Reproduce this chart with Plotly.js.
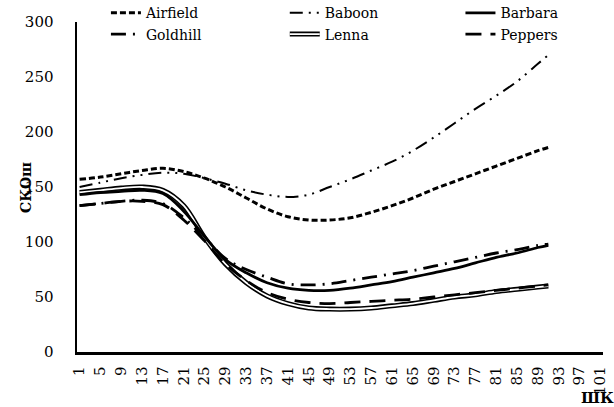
<!DOCTYPE html>
<html>
<head>
<meta charset="utf-8">
<script src="https://cdn.plot.ly/plotly-3.0.1.min.js"></script>
<style>
  html, body { margin: 0; padding: 0; background: #fff; }
  #chart { width: 614px; height: 407px; }
</style>
</head>
<body>
<div id="chart"></div>
<script>
// Sample positions (ШК)
const shk = [1, 5, 9, 13, 17, 21, 25, 29, 33, 37, 41, 45, 49, 53, 57, 61, 65, 69, 73, 77, 81, 85, 89, 91];

// СКОш values per image
const airfield = [157, 159, 162, 165, 167, 164, 158, 150, 140, 130, 123, 120, 120, 122, 127, 133, 140, 148, 155, 162, 169, 176, 183, 186];
const baboon   = [150, 154, 158, 161, 163, 162, 158, 153, 147, 143, 141, 143, 150, 157, 165, 173, 183, 195, 208, 221, 233, 246, 262, 270];
const barbara  = [143, 145, 146, 147, 144, 128, 105, 84, 72, 63, 58, 56, 56, 58, 61, 64, 68, 72, 76, 81, 86, 90, 95, 97];
const goldhill = [133, 135, 137, 138, 135, 122, 104, 85, 75, 68, 62, 61, 62, 65, 68, 71, 74, 78, 82, 86, 90, 93, 97, 98];
const lenna    = [145, 147, 149, 150, 147, 133, 104, 80, 63, 51, 44, 40, 39, 39, 40, 42, 44, 47, 50, 52, 55, 57, 59, 60];
const peppers  = [133, 135, 137, 137, 134, 120, 101, 80, 65, 54, 48, 45, 44, 45, 46, 47, 48, 50, 52, 54, 56, 58, 60, 61];

// Axis ticks
const xTicks = [1, 5, 9, 13, 17, 21, 25, 29, 33, 37, 41, 45, 49, 53, 57, 61, 65, 69, 73, 77, 81, 85, 89, 93, 97, 101];
const yTicks = [0, 50, 100, 150, 200, 250, 300];

const FONT = 'DejaVu Serif';

function tr(name, y, line, legend, show) {
  return {
    type: 'scatter', mode: 'lines', name: name, x: shk, y: y,
    line: Object.assign({ shape: 'spline', smoothing: 1, color: '#000' }, line),
    legend: legend, showlegend: show !== false, hoverinfo: 'skip'
  };
}

const data = [
  tr('Airfield', airfield, { width: 3, dash: '6px,3px' }, 'legend'),
  tr('Goldhill', goldhill, { width: 2.8, dash: '15px,7px,2px,7px' }, 'legend'),
  tr('Baboon', baboon, { width: 2, dash: '13px,6px,2px,6px,2px,6px' }, 'legend2'),
  tr('Lenna', lenna, { width: 5 }, 'legend2'),
  tr('Lenna', lenna, { width: 1.8, color: '#fff' }, 'legend2', false),
  tr('Barbara', barbara, { width: 2.8 }, 'legend3'),
  tr('Peppers', peppers, { width: 2.8, dash: '16px,9px' }, 'legend3')
];

function legendAt(x) {
  return {
    x: x, y: 1.075, xanchor: 'left', yanchor: 'top', orientation: 'v',
    bgcolor: 'rgba(0,0,0,0)', borderwidth: 0,
    font: { family: FONT, size: 14, color: '#000' },
    tracegroupgap: 0, itemclick: false
  };
}

const layout = {
  width: 614, height: 407,
  margin: { l: 77, r: 11, t: 22, b: 55, autoexpand: false },
  paper_bgcolor: '#fff', plot_bgcolor: '#fff',
  font: { family: FONT, size: 15, color: '#000' },
  xaxis: {
    range: [0.5, 101.5], tickvals: xTicks, ticktext: xTicks.map(String),
    tickangle: -90, showgrid: false, zeroline: false,
    showline: true, linecolor: '#000', linewidth: 2.5,
    ticks: '', ticklabelstandoff: 6,
    tickfont: { family: FONT, size: 15, color: '#000' }
  },
  yaxis: {
    range: [0, 300], tickvals: yTicks, showgrid: false, zeroline: false,
    showline: true, linecolor: '#000', linewidth: 2.5,
    ticks: '', ticklabelstandoff: 18,
    tickfont: { family: FONT, size: 15, color: '#000' }
  },
  legend: legendAt(0.055),
  legend2: legendAt(0.395),
  legend3: legendAt(0.729),
  annotations: [{
    text: '<b>СКОш</b>', xref: 'paper', yref: 'paper', x: -0.097, y: 0.5,
    textangle: -90, xanchor: 'center', yanchor: 'middle', showarrow: false,
    font: { family: FONT, size: 14, color: '#000' }
  }, {
    text: '<b>ШК</b>', xref: 'paper', yref: 'paper', x: 0.989, y: -0.139,
    xanchor: 'center', yanchor: 'middle', showarrow: false,
    font: { family: FONT, size: 15, color: '#000' }
  }]
};

function doubleLennaLegend() {
  const texts = document.querySelectorAll('#chart text');
  texts.forEach(function (t) {
    if (t.textContent.trim() !== 'Lenna') return;
    let g = t.parentNode;
    while (g && !(g.classList && g.classList.contains('traces'))) g = g.parentNode;
    if (!g || g.getAttribute('data-dbl')) return;
    const paths = g.querySelectorAll('path');
    paths.forEach(function (p) {
      const cls = p.getAttribute('class') || '';
      if (cls.indexOf('js-line') >= 0) {
        const c = p.cloneNode(true);
        c.setAttribute('class', 'dbl-inner');
        c.setAttribute('style', 'fill:none;stroke:#fff;stroke-width:1.8px;stroke-opacity:1');
        p.parentNode.appendChild(c);
      }
    });
    g.setAttribute('data-dbl', '1');
  });
}

Plotly.newPlot('chart', data, layout, { staticPlot: true, displayModeBar: false }).then(function () {
  doubleLennaLegend();
  setTimeout(doubleLennaLegend, 50);
});
</script>
</body>
</html>
